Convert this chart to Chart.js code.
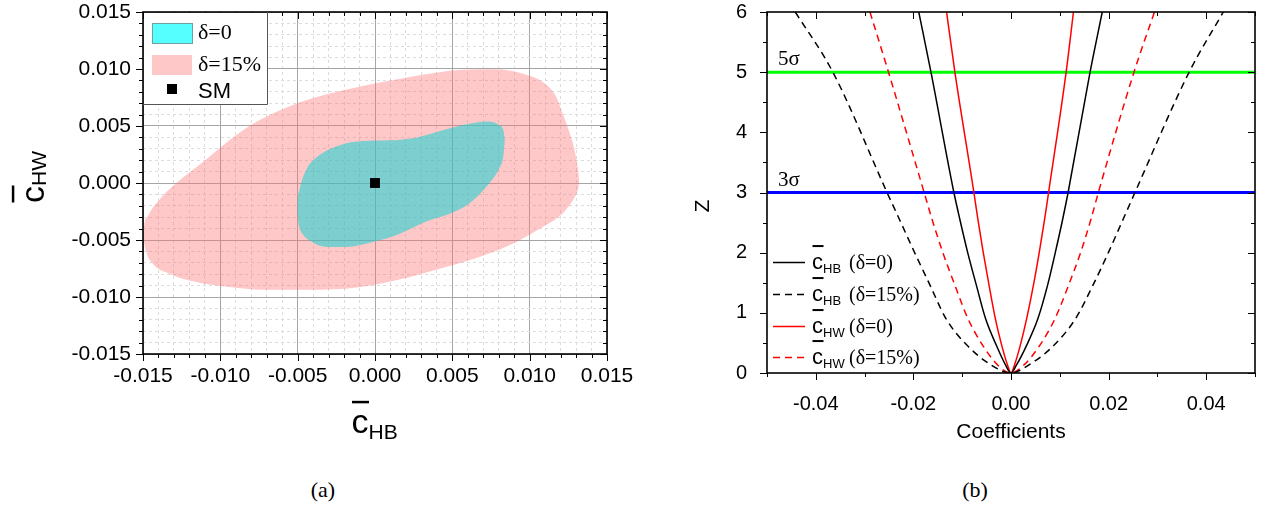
<!DOCTYPE html>
<html>
<head>
<meta charset="utf-8">
<script src="https://cdn.jsdelivr.net/npm/chart.js@4.4.1/dist/chart.umd.min.js"></script>
<style>
  body { margin: 0; background: #fff; }
  #wrap { position: relative; width: 1268px; height: 506px; overflow: hidden; }
  canvas { position: absolute; top: 0; }
  #chartA { left: 0; }
  #chartB { left: 650px; }
  .cap { position: absolute; top: 477px; width: 80px; text-align: center; font: 22px "Liberation Serif", serif; line-height: 26px; }
</style>
</head>
<body>
<div id="wrap">
  <canvas id="chartA" width="650" height="460"></canvas>
  <canvas id="chartB" width="618" height="460"></canvas>
  <div class="cap" style="left:283px">(a)</div>
  <div class="cap" style="left:935px">(b)</div>
</div>
<script>
const SANS = '"Liberation Sans", Arial, sans-serif';
const SERIF = '"Liberation Serif", "Times New Roman", serif';

// (a) contour regions, upper and lower edges
const pinkUpX = [-0.01498, -0.01494, -0.01465, -0.01390, -0.01244, -0.01093, -0.00942, -0.00769, -0.00511, -0.00252, 0.00050, 0.00351, 0.00567, 0.00782, 0.00955, 0.01084, 0.01170, 0.01210, 0.01256, 0.01290, 0.01310, 0.01321];
const pinkUpY = [-0.00444, -0.00380, -0.00280, -0.00140, 0.00045, 0.00205, 0.00375, 0.00535, 0.00696, 0.00798, 0.00886, 0.00959, 0.00994, 0.00997, 0.00959, 0.00886, 0.00760, 0.00620, 0.00450, 0.00290, 0.00140, 0.00010];
const pinkLoX = [-0.01498, -0.01495, -0.01480, -0.01437, -0.01330, -0.01157, -0.00942, -0.00726, -0.00511, -0.00188, 0.00136, 0.00459, 0.00675, 0.00890, 0.01084, 0.01213, 0.01289, 0.01312, 0.01321];
const pinkLoY = [-0.00444, -0.00500, -0.00600, -0.00708, -0.00795, -0.00868, -0.00912, -0.00936, -0.00936, -0.00927, -0.00854, -0.00737, -0.00649, -0.00532, -0.00386, -0.00268, -0.00130, -0.00060, 0.00010];

const tealUpX = [-0.00502, -0.00500, -0.00489, -0.00446, -0.00360, -0.00231, -0.00080, 0.00093, 0.00265, 0.00437, 0.00610, 0.00720, 0.00800, 0.00830, 0.00840];
const tealUpY = [-0.00210, -0.00150, -0.00064, 0.00111, 0.00243, 0.00330, 0.00368, 0.00374, 0.00398, 0.00462, 0.00520, 0.00540, 0.00510, 0.00460, 0.00380];
const tealLoX = [-0.00502, -0.00499, -0.00489, -0.00460, -0.00425, -0.00317, -0.00188, -0.00015, 0.00136, 0.00351, 0.00500, 0.00610, 0.00740, 0.00800, 0.00830, 0.00840];
const tealLoY = [-0.00210, -0.00298, -0.00386, -0.00460, -0.00503, -0.00561, -0.00561, -0.00518, -0.00459, -0.00327, -0.00260, -0.00180, 0.00000, 0.00120, 0.00240, 0.00380];

const smPoint = {x: 0, y: 0};
const rangeA = [-0.015, 0.015];

// (b) Z levels where the curves were read, coefficient on each side
const zLevels = [6, 5, 3, 2.56, 2.01, 1.46, 0.90, 0.46, 0.13];
const hb0Left   = [-0.0189, -0.0164, -0.0117, -0.0105, -0.0089, -0.0071, -0.0052, -0.0030, -0.0011];
const hb0Right  = [0.0187, 0.0162, 0.0117, 0.0106, 0.0091, 0.0075, 0.0055, 0.0032, 0.0011];
const hb15Left  = [-0.0442, -0.0365, -0.0254, -0.0229, -0.0198, -0.0166, -0.0133, -0.0090, -0.0040];
const hb15Right = [0.0435, 0.0365, 0.0254, 0.0230, 0.0200, 0.0168, 0.0132, 0.0088, 0.0036];
const hw0Left   = [-0.0132, -0.0115, -0.0076, -0.0068, -0.0057, -0.0045, -0.0032, -0.0019, -0.0007];
const hw0Right  = [0.0128, 0.0113, 0.0077, 0.0069, 0.0058, 0.0046, 0.0032, 0.0019, 0.0007];
const hw15Left  = [-0.0289, -0.0251, -0.0178, -0.0162, -0.0140, -0.0115, -0.0088, -0.0058, -0.0027];
const hw15Right = [0.0294, 0.0252, 0.0179, 0.0164, 0.0143, 0.0118, 0.0090, 0.0059, 0.0026];

const sigmaLines = [5, 3];
const rangeB = [-0.05, 0.05];

Chart.defaults.font.family = SANS;
Chart.defaults.color = '#000';

const isMajor = (v, step) => Math.abs(v / step - Math.round(v / step)) < 1e-6;
const fmt = (v, d) => (Math.abs(v) < 1e-9 ? 0 : v).toFixed(d);
const pts = (xs, ys) => xs.map((x, i) => ({x, y: ys[i]}));

function curve(left, right) {
  const out = left.map((x, i) => ({x, y: zLevels[i]}));
  out.push({x: 0, y: 0});
  for (let i = right.length - 1; i >= 0; i--) out.push({x: right[i], y: zLevels[i]});
  return out;
}

// c with overbar and subscript
function cbar(ctx, x, y, sub, big, small, drop, gap, thick) {
  ctx.font = big + 'px ' + SANS;
  ctx.fillText('c', x, y);
  const w = ctx.measureText('c').width;
  ctx.fillRect(x + 0.5, y - big * 0.52 - gap - thick, w, thick);
  ctx.font = small + 'px ' + SANS;
  ctx.fillText(sub, x + w, y + drop);
  return x + w + ctx.measureText(sub).width;
}

// keep chart area where the layout padding puts it
const fitY = w => s => { s.width = w; s.paddingTop = 0; s.paddingBottom = 0; };
const fitX = h => s => { s.height = h; s.paddingLeft = 0; s.paddingRight = 0; };

// box around the plot, ticks out on bottom/left, in on top/right
const frameTicks = {
  id: 'frameTicks',
  afterDatasetsDraw(chart, args, o) {
    const {ctx, chartArea: a, scales: {x, y}} = chart;
    ctx.save();
    ctx.strokeStyle = '#000';
    ctx.lineWidth = 1;
    ctx.beginPath();
    x.ticks.forEach(t => {
      const p = Math.round(x.getPixelForValue(t.value)) + 0.5;
      const len = isMajor(t.value, o.xMajor) ? o.major : o.minor;
      ctx.moveTo(p, a.bottom); ctx.lineTo(p, a.bottom + len);
      ctx.moveTo(p, a.top); ctx.lineTo(p, a.top + len);
    });
    y.ticks.forEach(t => {
      const p = Math.round(y.getPixelForValue(t.value)) + 0.5;
      const len = isMajor(t.value, o.yMajor) ? o.major : o.minor;
      ctx.moveTo(a.left, p); ctx.lineTo(a.left - len, p);
      ctx.moveTo(a.right, p); ctx.lineTo(a.right - len, p);
    });
    ctx.stroke();
    ctx.lineWidth = 1.6;
    ctx.strokeRect(a.left, a.top, a.right - a.left, a.bottom - a.top);
    ctx.restore();
  }
};

const annotA = {
  id: 'annotA',
  afterDraw(chart) {
    const {ctx, chartArea: a} = chart;
    ctx.save();
    const bx = a.left, by = a.top, bw = 124, bh = 92;
    ctx.fillStyle = '#fff';
    ctx.fillRect(bx + 1, by + 1, bw - 1, bh - 1);
    ctx.strokeStyle = '#555';
    ctx.lineWidth = 1;
    ctx.beginPath();
    ctx.moveTo(bx + bw + 0.5, by);
    ctx.lineTo(bx + bw + 0.5, by + bh + 0.5);
    ctx.lineTo(bx, by + bh + 0.5);
    ctx.stroke();
    ctx.fillStyle = '#55ffff';
    ctx.fillRect(bx + 9, by + 11, 40, 20);
    ctx.strokeStyle = '#6f9f9f';
    ctx.strokeRect(bx + 9.5, by + 11.5, 40, 20);
    ctx.fillStyle = '#ffc8c8';
    ctx.fillRect(bx + 9, by + 43, 40, 20);
    ctx.fillStyle = '#000';
    ctx.fillRect(bx + 24, by + 72, 10, 10);
    ctx.textBaseline = 'middle';
    ctx.font = '22px ' + SERIF;
    ctx.fillText('δ=0', bx + 55, by + 21);
    ctx.fillText('δ=15%', bx + 55, by + 53);
    ctx.font = '22px ' + SANS;
    ctx.fillText('SM', bx + 55, by + 80);

    ctx.textBaseline = 'alphabetic';
    cbar(ctx, a.left + 208.5, 433, 'HB', 34, 21, 6, 12, 2.5);
    ctx.translate(44, 203);
    ctx.rotate(-Math.PI / 2);
    cbar(ctx, 0, 0, 'HW', 34, 21, 2, 12, 2.5);
    ctx.restore();
  }
};

const annotB = {
  id: 'annotB',
  afterDraw(chart) {
    const {ctx, chartArea: a, scales: {y}} = chart;
    ctx.save();
    ctx.fillStyle = '#000';
    ctx.textBaseline = 'alphabetic';
    ctx.font = '21px ' + SERIF;
    sigmaLines.forEach(z => ctx.fillText(z + 'σ', a.left + 11, y.getPixelForValue(z) - 7));

    chart.data.datasets.filter(d => d.sub).forEach((d, i) => {
      const yy = Math.round(a.top + 250 + i * 31.8) + 0.5;
      ctx.strokeStyle = d.borderColor;
      ctx.lineWidth = 1.5;
      ctx.setLineDash(d.borderDash);
      ctx.beginPath();
      ctx.moveTo(a.left + 6, yy);
      ctx.lineTo(a.left + 38, yy);
      ctx.stroke();
      ctx.setLineDash([]);
      cbar(ctx, a.left + 45, yy + 6, d.sub, 22, 13, 4, 10, 2);
      ctx.font = '20px ' + SERIF;
      ctx.fillText(d.tag, a.left + 82, yy + 6);
    });

    ctx.font = '21px ' + SANS;
    ctx.textAlign = 'center';
    ctx.textBaseline = 'middle';
    ctx.fillText('Coefficients', (a.left + a.right) / 2, 432);
    ctx.translate(53, 206);
    ctx.rotate(-Math.PI / 2);
    ctx.fillText('Z', 0, 0);
    ctx.restore();
  }
};

const region = {
  borderWidth: 0,
  borderColor: 'rgba(0,0,0,0)',
  pointRadius: 0,
  cubicInterpolationMode: 'monotone'
};

new Chart(document.getElementById('chartA'), {
  type: 'line',
  data: {
    datasets: [
      { data: [smPoint], showLine: false, pointStyle: 'rect', pointRadius: 7, pointBackgroundColor: '#000', pointBorderWidth: 0 },
      { data: pts(tealUpX, tealUpY), ...region, fill: 2, backgroundColor: 'rgba(19,209,209,0.55)' },
      { data: pts(tealLoX, tealLoY), ...region, fill: false },
      { data: pts(pinkUpX, pinkUpY), ...region, fill: 4, backgroundColor: 'rgba(255,110,110,0.38)' },
      { data: pts(pinkLoX, pinkLoY), ...region, fill: false }
    ]
  },
  options: {
    responsive: false,
    animation: false,
    events: [],
    layout: { padding: { left: 0, top: 12, right: 43, bottom: 0 } },
    plugins: {
      legend: { display: false },
      tooltip: { enabled: false },
      frameTicks: { xMajor: 0.005, yMajor: 0.005, major: 7, minor: 4 }
    },
    scales: {
      x: {
        type: 'linear', min: rangeA[0], max: rangeA[1],
        ticks: { stepSize: 0.001, autoSkip: false, maxRotation: 0, padding: 10, font: { size: 21 },
          callback: v => isMajor(v, 0.005) ? fmt(v, 3) : '' },
        grid: { drawTicks: false, color: c => c.tick && isMajor(c.tick.value, 0.005) ? '#a6a6a6' : '#dcdcdc' },
        border: { display: false, dash: c => c.tick && !isMajor(c.tick.value, 0.005) ? [3, 3] : [] },
        afterFit: fitX(106)
      },
      y: {
        type: 'linear', min: rangeA[0], max: rangeA[1],
        ticks: { stepSize: 0.001, autoSkip: false, padding: 12, font: { size: 21 },
          callback: v => isMajor(v, 0.005) ? fmt(v, 3) : '' },
        grid: { drawTicks: false, color: c => c.tick && isMajor(c.tick.value, 0.005) ? '#a6a6a6' : '#dcdcdc' },
        border: { display: false, dash: c => c.tick && !isMajor(c.tick.value, 0.005) ? [3, 3] : [] },
        afterFit: fitY(143)
      }
    }
  },
  plugins: [frameTicks, annotA]
});

const curveStyle = { pointRadius: 0, borderWidth: 1.5, cubicInterpolationMode: 'monotone', fill: false };

new Chart(document.getElementById('chartB'), {
  type: 'line',
  data: {
    datasets: [
      { data: curve(hb0Left, hb0Right), ...curveStyle, borderColor: '#000', borderDash: [], sub: 'HB', tag: '(δ=0)' },
      { data: curve(hb15Left, hb15Right), ...curveStyle, borderColor: '#000', borderDash: [7, 5], sub: 'HB', tag: '(δ=15%)' },
      { data: curve(hw0Left, hw0Right), ...curveStyle, borderColor: '#ff0000', borderDash: [], sub: 'HW', tag: '(δ=0)' },
      { data: curve(hw15Left, hw15Right), ...curveStyle, borderColor: '#ff0000', borderDash: [7, 5], sub: 'HW', tag: '(δ=15%)' },
      { data: rangeB.map(x => ({x, y: sigmaLines[0]})), pointRadius: 0, borderWidth: 3, borderColor: '#00ff00' },
      { data: rangeB.map(x => ({x, y: sigmaLines[1]})), pointRadius: 0, borderWidth: 3, borderColor: '#0000ff' }
    ]
  },
  options: {
    responsive: false,
    animation: false,
    events: [],
    layout: { padding: { left: 0, top: 12, right: 13, bottom: 0 } },
    plugins: {
      legend: { display: false },
      tooltip: { enabled: false },
      frameTicks: { xMajor: 0.02, yMajor: 1, major: 7, minor: 4 }
    },
    scales: {
      x: {
        type: 'linear', min: rangeB[0], max: rangeB[1],
        ticks: { stepSize: 0.01, autoSkip: false, maxRotation: 0, padding: 11, font: { size: 20 },
          callback: v => (isMajor(v, 0.02) && Math.abs(v) < 0.045) ? fmt(v, 2) : '' },
        grid: { display: false },
        border: { display: false },
        afterFit: fitX(87)
      },
      y: {
        type: 'linear', min: 0, max: 6,
        ticks: { stepSize: 0.5, autoSkip: false, padding: 12, font: { size: 20 },
          callback: v => isMajor(v, 1) ? String(Math.round(v)) : '' },
        grid: { display: false },
        border: { display: false },
        afterFit: fitY(117)
      }
    }
  },
  plugins: [frameTicks, annotB]
});
</script>
</body>
</html>
